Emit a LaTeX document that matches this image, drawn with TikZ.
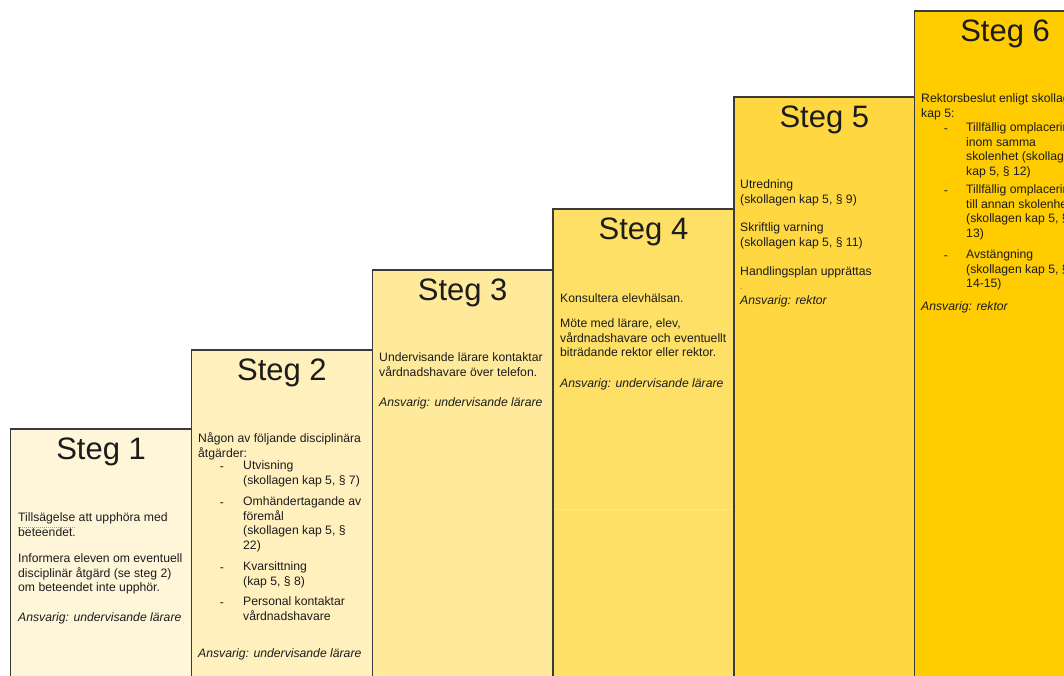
\documentclass[tikz,border=0pt]{standalone}
\usepackage{fontspec}
\setmainfont{Liberation Sans}
\definecolor{c1}{HTML}{FFF6D9}
\definecolor{c2}{HTML}{FFF0BD}
\definecolor{c3}{HTML}{FFE99A}
\definecolor{c4}{HTML}{FFE066}
\definecolor{c4light}{HTML}{FFE783}
\definecolor{c5}{HTML}{FFD740}
\definecolor{c6}{HTML}{FFCC00}
\definecolor{boxline}{HTML}{3A3A3A}
\definecolor{txt}{HTML}{1C1C1C}
\definecolor{spell}{HTML}{7AA0E0}
\begin{document}
\begin{tikzpicture}[x=1pt,y=-1pt,
  stepbox/.style={draw=boxline,line width=1.3pt},
  title/.style={anchor=base,inner sep=0pt,text=txt,font=\fontsize{31}{31}\selectfont},
  body/.style={anchor=north west,yshift=8.15pt,inner sep=0pt,align=left,text=txt,
    font=\fontsize{12.2}{14.5}\selectfont,execute at begin node={\strut}},
  resp/.style={body,font=\fontsize{12.2}{14.5}\selectfont\itshape},
  listdash/.style={anchor=base,yshift=-1.5pt,inner sep=0pt,text=txt,font=\fontsize{12.2}{14.5}\selectfont},
  smalldot/.style={anchor=base west,inner sep=0pt,text=txt,font=\fontsize{7}{8}\selectfont}]
\useasboundingbox (0,0) rectangle (1064,675);
\clip (0,0) rectangle (1064,675);
\fill[white] (0,0) rectangle (1064,675);

% step boxes
\draw[stepbox,fill=c1] (10.7,429) rectangle (191.5,690);
\draw[stepbox,fill=c2] (191.5,350) rectangle (372.3,690);
\draw[stepbox,fill=c3] (372.3,270) rectangle (553.1,690);
\draw[stepbox,fill=c4] (553.1,209) rectangle (733.9,690);
\draw[draw=c4light,line width=1pt] (554,509) -- (733,509);
\draw[stepbox,fill=c5] (733.9,97) rectangle (914.7,690);
\draw[stepbox,fill=c6] (914.7,11) rectangle (1095.5,690);

% titles
\node[title] (s1) at (101.1,459) {Steg 1};
\node[title] (s2) at (281.9,380) {Steg 2};
\node[title] (s3) at (462.7,300) {Steg 3};
\node[title] (s4) at (643.5,239) {Steg 4};
\node[title] (s5) at (824.3,127) {Steg 5};
\node[title] (s6) at (1005.1,41) {Steg 6};

% Steg 1
\node[body] (b1a) at (18,521) {Tillsägelse att upphöra med\\beteendet.};
\draw[spell,line width=0.8pt,dash pattern=on 1pt off 1pt] (18,527) -- (75,527);
\node[body] (b1b) at (18,562) {Informera eleven om eventuell\\disciplinär åtgärd (se steg 2)\\om beteendet inte upphör.};
\node[resp] (b1c) at (18,619) {Ansvarig: undervisande lärare};

% Steg 2
\node[body] (b2a) at (198,441) {Någon av följande disciplinära\\åtgärder:};
\node[listdash] (d2a) at (222,469) {-};
\node[body] (b2b) at (243,469) {Utvisning\\(skollagen kap 5, § 7)};
\node[listdash] (d2b) at (222,505) {-};
\node[body] (b2c) at (243,505) {Omhändertagande av\\föremål\\(skollagen kap 5, §\\22)};
\node[listdash] (d2c) at (222,570) {-};
\node[body] (b2d) at (243,570) {Kvarsittning\\(kap 5, § 8)};
\node[listdash] (d2d) at (222,605) {-};
\node[body] (b2e) at (243,605) {Personal kontaktar\\vårdnadshavare};
\node[resp] (b2f) at (198,655) {Ansvarig: undervisande lärare};

% Steg 3
\node[body] (b3a) at (379,361) {Undervisande lärare kontaktar\\vårdnadshavare över telefon.};
\node[resp] (b3b) at (379,404) {Ansvarig: undervisande lärare};

% Steg 4
\node[body] (b4a) at (560,300) {Konsultera elevhälsan.};
\node[body] (b4b) at (560,327) {Möte med lärare, elev,\\vårdnadshavare och eventuellt\\biträdande rektor eller rektor.};
\node[resp] (b4c) at (560,385) {Ansvarig: undervisande lärare};

% Steg 5
\node[body] (b5a) at (740,188) {Utredning\\(skollagen kap 5, § 9)};
\node[body] (b5b) at (740,231) {Skriftlig varning\\(skollagen kap 5, § 11)};
\node[body] (b5c) at (740,273) {Handlingsplan upprättas};
\node[smalldot] (b5d) at (740,289) {.};
\node[resp] (b5e) at (740,302) {Ansvarig: rektor};

% Steg 6
\node[body] (b6a) at (921,102) {Rektorsbeslut enligt skollagen\\kap 5:};
\node[listdash] (d6a) at (946,131) {-};
\node[body] (b6b) at (966,131) {Tillfällig omplacering\\inom samma\\skolenhet (skollagen\\kap 5, § 12)};
\node[listdash] (d6b) at (946,193) {-};
\node[body] (b6c) at (966,193) {Tillfällig omplacering\\till annan skolenhet\\(skollagen kap 5, §\\13)};
\node[listdash] (d6c) at (946,258) {-};
\node[body] (b6d) at (966,258) {Avstängning\\(skollagen kap 5, §§\\14-15)};
\node[resp] (b6e) at (921,308) {Ansvarig: rektor};
\end{tikzpicture}
\end{document}
